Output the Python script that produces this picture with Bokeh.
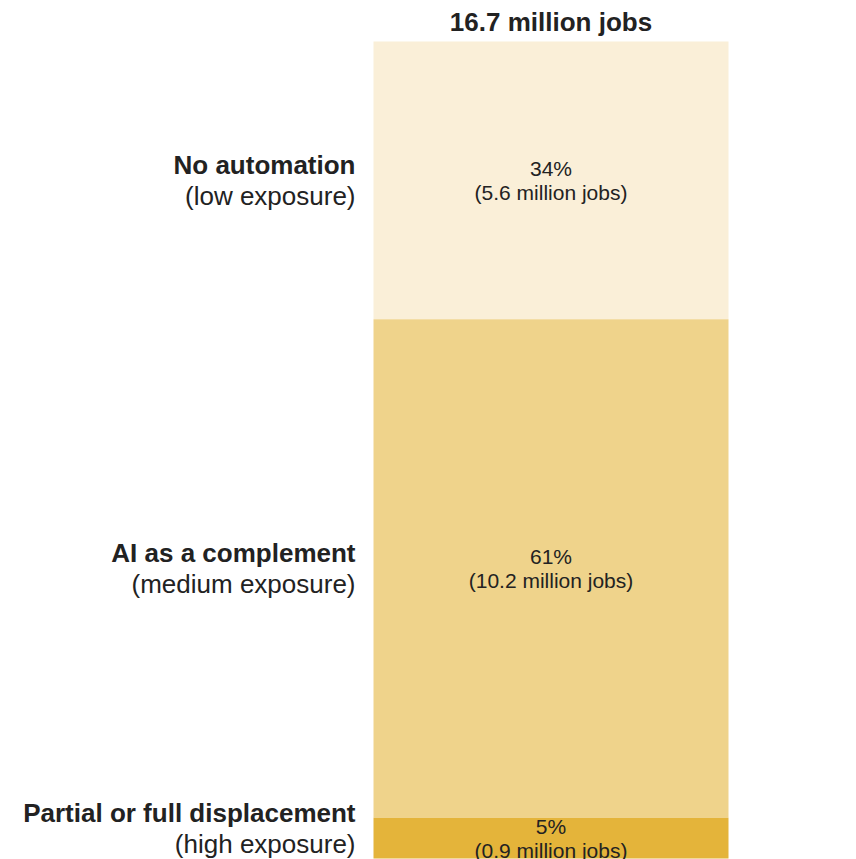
from bokeh.plotting import figure
from bokeh.models import ColumnDataSource, Range1d
from bokeh.core.properties import value
from bokeh.embed import file_html
from bokeh.resources import INLINE

# ---- data ----
total_label = "16.7 million jobs"
categories = ["No automation", "AI as a complement", "Partial or full displacement"]
sublabels = ["(low exposure)", "(medium exposure)", "(high exposure)"]
shares = [34, 61, 5]
jobs_millions = [5.6, 10.2, 0.9]
colors = ["#FAEFD8", "#EFD38B", "#E4B43A"]

FONT = "Liberation Sans"
TXT = "#222222"

# stacked positions (top = 0, bottom = 100)
tops, bottoms, mids = [], [], []
acc = 0
for s in shares:
    tops.append(acc)
    bottoms.append(acc + s)
    mids.append(acc + s / 2)
    acc += s
label_mids = [min(m, 96.3) for m in mids]

pct_text = [f"{s}%" for s in shares]
jobs_text = [f"({j} million jobs)" for j in jobs_millions]

src = ColumnDataSource(dict(
    x=[0] * len(shares), top=tops, bottom=bottoms, mid=mids, lmid=label_mids,
    color=colors, cat=categories, sub=sublabels, pct=pct_text, jobs=jobs_text,
))

W, H = 856, 859
px_per_x = 355.0
bar_left_px = 373.0
x_start = -0.5 - bar_left_px / px_per_x
x_end = x_start + W / px_per_x
bar_top_px = 41.0
bar_bot_px = 858.0
px_per_y = (bar_bot_px - bar_top_px) / 100.0
y_top = -bar_top_px / px_per_y
y_bot = y_top + H / px_per_y

p = figure(width=W, height=H, output_backend="svg", toolbar_location=None,
           x_range=Range1d(x_start, x_end), y_range=Range1d(y_bot, y_top),
           min_border=0, outline_line_color=None)
p.axis.visible = False
p.grid.visible = False
p.background_fill_color = "white"
p.border_fill_color = "white"

p.vbar(x="x", width=1.0, top="top", bottom="bottom", fill_color="color",
       line_color=None, source=src)

# in-bar labels
p.text(x="x", y="mid", text="pct", source=src, text_align="center",
       text_baseline="middle", y_offset=-12, text_font=value(FONT),
       text_font_size="21px", text_color=TXT)
p.text(x="x", y="mid", text="jobs", source=src, text_align="center",
       text_baseline="middle", y_offset=12, text_font=value(FONT),
       text_font_size="21px", text_color=TXT)

# category labels (left)
p.text(x=-0.5, y="lmid", text="cat", source=src, text_align="right",
       text_baseline="middle", x_offset=-18, y_offset=-15, text_font=value(FONT),
       text_font_size="26px", text_font_style="bold", text_color=TXT)
p.text(x=-0.5, y="lmid", text="sub", source=src, text_align="right",
       text_baseline="middle", x_offset=-18, y_offset=16, text_font=value(FONT),
       text_font_size="26px", text_color=TXT)

# total label
p.text(x=[0], y=[0], text=[total_label], text_align="center",
       text_baseline="middle", y_offset=-20, text_font=value(FONT),
       text_font_size="26px", text_font_style="bold", text_color=TXT)

open("out.html", "w").write(file_html(p, INLINE))
